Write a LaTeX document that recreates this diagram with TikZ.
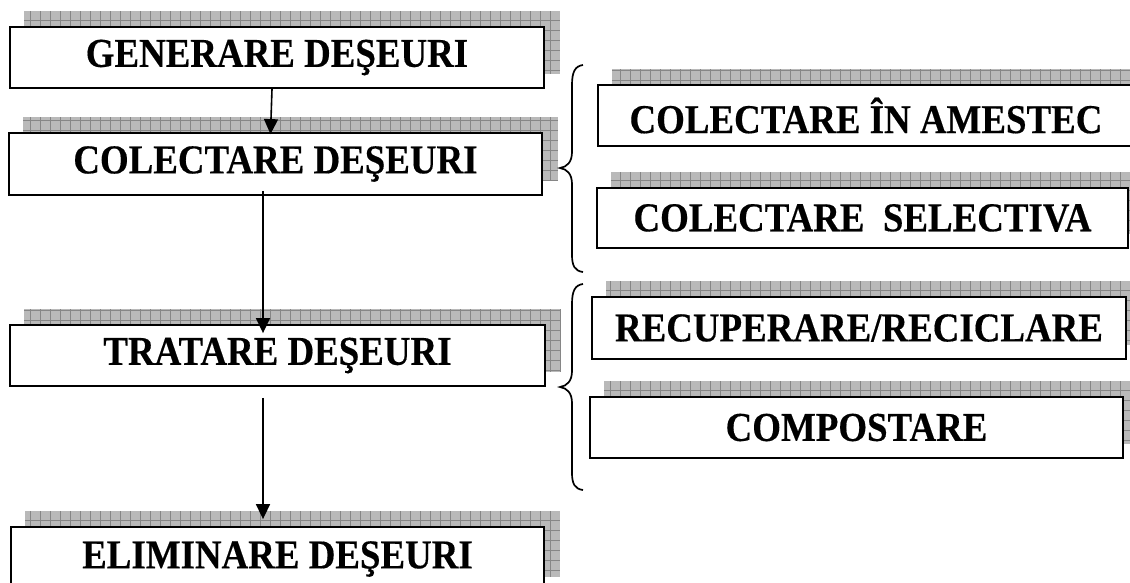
\documentclass[tikz,border=0pt]{standalone}
\usepackage{fontspec}
\setmainfont{Liberation Serif}[FakeStretch=0.9, BoldFeatures={FakeBold=0.35}]
\usetikzlibrary{arrows.meta}
\pgfdeclarelayer{background}
\pgfsetlayers{background,main}
\tikzset{
  box/.style={draw=black, fill=white, line width=1.8pt, inner sep=0pt,
    font=\bfseries\fontsize{41}{41}\selectfont},
  arr/.style={line width=1.6pt, -{Triangle[length=15pt,width=14pt]}},
  bracel/.style={line width=1.7pt},
  shfill/.style={fill=gray!55},
  shgrid/.style={draw=gray!95, line width=0.6pt}
}
\newcommand\dropshade[1]{%
  \begin{pgfonlayer}{background}
    \begin{scope}
      \clip ([shift={(15pt,15pt)}]#1.south west) rectangle ([shift={(15pt,15pt)}]#1.north east);
      \fill[shfill] ([shift={(15pt,15pt)}]#1.south west) rectangle ([shift={(15pt,15pt)}]#1.north east);
      \draw[shgrid, step=10pt] (0,0) grid (1140,600);
    \end{scope}
  \end{pgfonlayer}}
\begin{document}
\begin{tikzpicture}[x=1pt, y=-1pt]
\useasboundingbox (0,0) rectangle (1130,582);
\clip (0,0) rectangle (1130,582);
% left column
\node[box, minimum width=534pt, minimum height=61pt] (b1) at (277,57.5) {GENERARE DEŞEURI};
\node[box, minimum width=533pt, minimum height=62pt] (b2) at (275.5,164) {COLECTARE DEŞEURI};
\node[box, minimum width=535pt, minimum height=61pt] (b3) at (277.5,355.5) {TRATARE DEŞEURI};
\node[box, minimum width=533pt, minimum height=64pt] (b4) at (277.5,559) {ELIMINARE DEŞEURI};
% right column
\node[box, minimum width=536pt, minimum height=61pt] (r1) at (866,115.5) {COLECTARE ÎN AMESTEC};
\node[box, minimum width=531pt, minimum height=60pt] (r2) at (862.5,218) {COLECTARE \ SELECTIVA};
\node[box, minimum width=534pt, minimum height=62pt] (r3) at (859,328) {RECUPERARE/RECICLARE};
\node[box, minimum width=533pt, minimum height=61pt] (r4) at (856.5,427.5) {COMPOSTARE};
% shadows
\dropshade{b1}\dropshade{b2}\dropshade{b3}\dropshade{b4}
\dropshade{r1}\dropshade{r2}\dropshade{r3}\dropshade{r4}
% arrows
\draw[arr] ([xshift=-5pt]b1.south) -- ([xshift=-5pt,yshift=-2pt]b2.north);
\draw[arr] ([xshift=-12.5pt,yshift=5pt]b2.south) -- ([xshift=-14.5pt,yshift=-9pt]b3.north);
\draw[arr] ([xshift=-14.5pt,yshift=-11pt]b3.south) -- ([xshift=-14.5pt,yshift=7pt]b4.north);
% braces
\draw[bracel] (583,65) .. controls (575,66) and (572,72) .. (572,85) -- (572,152)
  .. controls (572,162) and (567,167) .. (560,168)
  .. controls (567,169) and (572,174) .. (572,184) -- (572,255)
  .. controls (572,266) and (575,271) .. (583,272);
\draw[bracel] (583,284) .. controls (575,285) and (572,291) .. (572,304) -- (572,371)
  .. controls (572,381) and (567,386) .. (560,387)
  .. controls (567,388) and (572,393) .. (572,403) -- (572,473)
  .. controls (572,484) and (575,489) .. (583,490);
\end{tikzpicture}
\end{document}
